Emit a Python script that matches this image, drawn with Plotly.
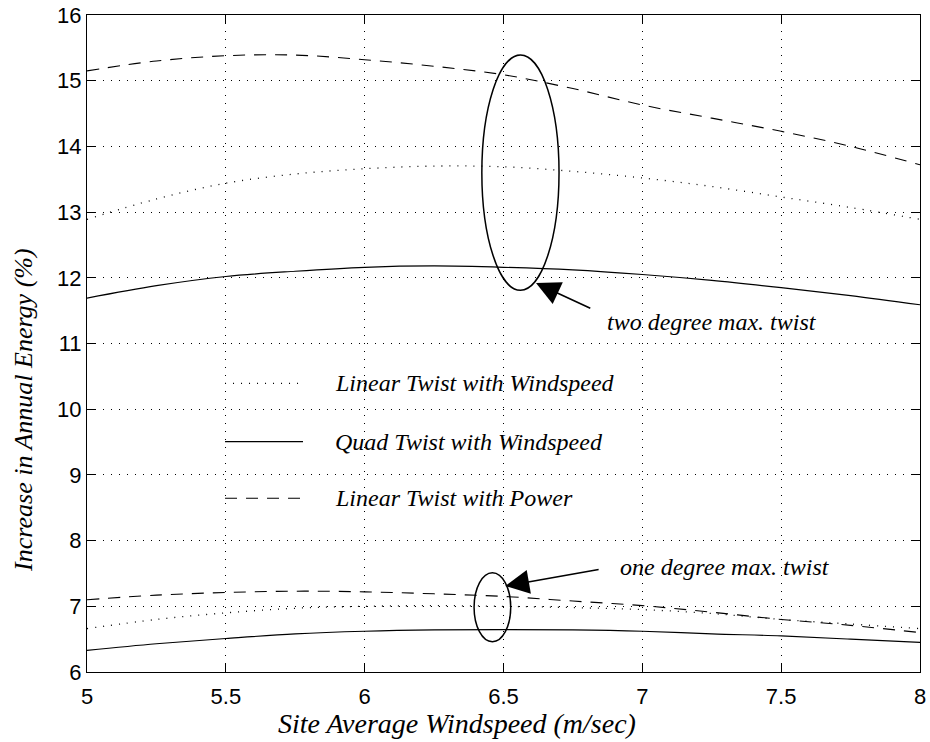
import plotly.graph_objects as go

# ---- data ----
windspeed = [5.0, 5.25, 5.5, 5.75, 6.0, 6.25, 6.5, 6.75, 7.0, 7.25, 7.5, 7.75, 8.0]

# two degree max. twist
lin_ws_2 = [12.89, 13.20, 13.44, 13.58, 13.66, 13.70, 13.69, 13.62, 13.52, 13.39, 13.23, 13.07, 12.89]
quad_ws_2 = [11.69, 11.88, 12.02, 12.10, 12.16, 12.18, 12.16, 12.12, 12.05, 11.96, 11.85, 11.73, 11.59]
lin_pw_2 = [15.15, 15.30, 15.38, 15.39, 15.32, 15.22, 15.09, 14.88, 14.63, 14.43, 14.23, 14.00, 13.72]

# one degree max. twist
lin_ws_1 = [6.66, 6.80, 6.90, 6.97, 7.00, 7.01, 7.00, 6.98, 6.95, 6.89, 6.80, 6.73, 6.66]
quad_ws_1 = [6.33, 6.43, 6.51, 6.58, 6.62, 6.64, 6.645, 6.64, 6.62, 6.58, 6.55, 6.50, 6.45]
lin_pw_1 = [7.10, 7.17, 7.21, 7.23, 7.22, 7.19, 7.15, 7.08, 7.01, 6.91, 6.80, 6.71, 6.60]

series_names = ["Linear Twist with Windspeed", "Quad Twist with Windspeed", "Linear Twist with Power"]
x_ticks = [5, 5.5, 6, 6.5, 7, 7.5, 8]
x_tick_labels = ["5", "5.5", "6", "6.5", "7", "7.5", "8"]
y_ticks = [6, 7, 8, 9, 10, 11, 12, 13, 14, 15, 16]

DOT = "1px,7px"
DASH = "12px,9px"
styles = [dict(dash=DOT, width=1.3), dict(dash="solid", width=1.2), dict(dash=DASH, width=1.1)]

SERIF = "Liberation Serif, Times New Roman, serif"
SANS = "Liberation Sans, Arial, sans-serif"

fig = go.Figure()
for group in ([lin_ws_2, quad_ws_2, lin_pw_2], [lin_ws_1, quad_ws_1, lin_pw_1]):
    for ys, st in zip(group, styles):
        fig.add_trace(go.Scatter(x=windspeed, y=ys, mode="lines",
                                 line=dict(color="black", shape="spline", **st),
                                 showlegend=False, hoverinfo="skip"))

# ---- hand-drawn style legend inside the axes ----
leg_x0, leg_x1, leg_tx = 0.1657, 0.2593, 0.2953
leg_y = [0.4394, 0.3505, 0.2644]
for name, st, ly in zip(series_names, styles, leg_y):
    fig.add_shape(type="line", xref="paper", yref="paper", x0=leg_x0, x1=leg_x1, y0=ly, y1=ly,
                  line=dict(color="black", width=st["width"], dash=st["dash"]))
    fig.add_annotation(xref="paper", yref="paper", x=leg_tx, y=ly, text="<i>" + name + "</i>",
                       showarrow=False, xanchor="left", yanchor="middle",
                       font=dict(family=SERIF, size=24, color="black"))

# ---- ellipses ----
fig.add_shape(type="circle", xref="x", yref="y", x0=6.422, x1=6.700, y0=11.81, y1=15.39,
              line=dict(color="black", width=1.5))
fig.add_shape(type="circle", xref="x", yref="y", x0=6.394, x1=6.526, y0=6.46, y1=7.51,
              line=dict(color="black", width=1.5))

# ---- arrows + labels ----
fig.add_annotation(x=6.617, y=11.92, ax=6.818, ay=11.525, xref="x", yref="y", axref="x", ayref="y",
                   showarrow=True, arrowhead=2, arrowsize=3, arrowwidth=1.6, arrowcolor="black", text="")
fig.add_annotation(x=6.866, y=11.33, xref="x", yref="y", text="<i>two degree max. twist</i>",
                   showarrow=False, xanchor="left", yanchor="middle",
                   font=dict(family=SERIF, size=24, color="black"))
fig.add_annotation(x=6.506, y=7.309, ax=6.848, ay=7.563, xref="x", yref="y", axref="x", ayref="y",
                   showarrow=True, arrowhead=2, arrowsize=3, arrowwidth=1.6, arrowcolor="black", text="")
fig.add_annotation(x=6.913, y=7.60, xref="x", yref="y", text="<i>one degree max. twist</i>",
                   showarrow=False, xanchor="left", yanchor="middle",
                   font=dict(family=SERIF, size=24, color="black"))

# ---- axis titles ----
fig.add_annotation(xref="paper", yref="paper", x=0.444, y=-0.078, text="<i>Site Average Windspeed (m/sec)</i>",
                   showarrow=False, xanchor="center", yanchor="middle",
                   font=dict(family=SERIF, size=28, color="black"))
fig.add_annotation(xref="paper", yref="paper", x=-0.0756, y=0.399, text="<i>Increase in Annual Energy (%)</i>",
                   showarrow=False, xanchor="center", yanchor="middle", textangle=-90,
                   font=dict(family=SERIF, size=26, color="black"))

axis_common = dict(showline=True, linecolor="black", linewidth=1.2, mirror="all",
                   ticks="inside", ticklen=8, tickwidth=1, tickcolor="black",
                   showgrid=True, gridcolor="black", gridwidth=1, griddash=DOT,
                   zeroline=False, automargin=False, ticklabeloverflow="allow",
                   tickfont=dict(family=SANS, size=22, color="black"))

fig.update_xaxes(range=[5, 8], tickvals=x_ticks, ticktext=x_tick_labels, ticklabelstandoff=4, **axis_common)
fig.update_yaxes(range=[6, 16], tickvals=y_ticks, **axis_common)

fig.update_layout(width=930, height=742, plot_bgcolor="white", paper_bgcolor="white",
                  margin=dict(l=87, r=10, t=15, b=70), showlegend=False)

fig.write_html("out.html", config={"displayModeBar": False},
               post_script="document.body.style.margin='0';document.body.style.overflow='hidden';")
